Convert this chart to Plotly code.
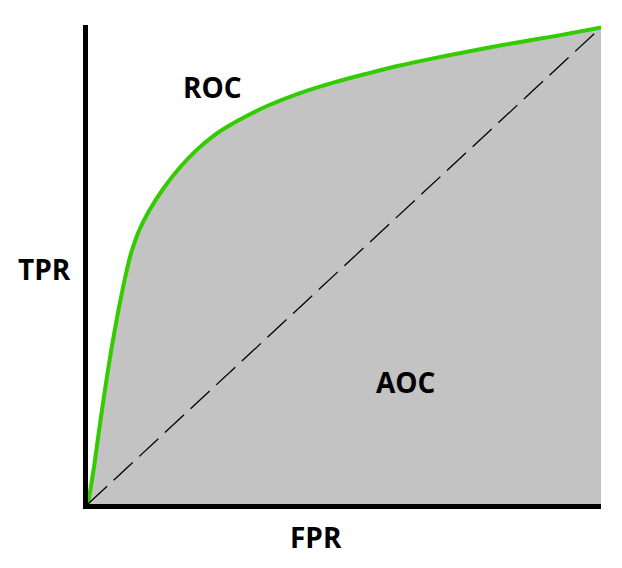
import plotly.graph_objects as go

# ROC curve points (FPR, TPR)
fpr = [0.0, 0.012, 0.021, 0.030, 0.040, 0.051, 0.064, 0.077, 0.085, 0.100, 0.120,
       0.147, 0.179, 0.212, 0.244, 0.277, 0.309, 0.349, 0.413, 0.478, 0.544, 0.608,
       0.673, 0.739, 0.803, 0.895, 1.0]
tpr = [0.0, 0.080, 0.150, 0.217, 0.288, 0.358, 0.432, 0.497, 0.530, 0.575, 0.617,
       0.662, 0.706, 0.743, 0.772, 0.795, 0.814, 0.835, 0.862, 0.884, 0.903, 0.920,
       0.935, 0.949, 0.962, 0.979, 1.0]
diag_x = [0, 1]
diag_y = [0, 1]

labels = {"ROC": (0.242, 0.875), "AOC": (0.618, 0.255)}

font_family = "Open Sans"
fsize = 28

fig = go.Figure()
fig.add_trace(go.Scatter(x=fpr, y=tpr, mode="lines", fill="tozeroy",
                         fillcolor="rgb(195,195,195)",
                         line=dict(color="rgb(51,204,0)", width=4, shape="spline", smoothing=1.0),
                         hoverinfo="skip", showlegend=False))
fig.add_trace(go.Scatter(x=diag_x, y=diag_y, mode="lines",
                         line=dict(color="black", width=1.3, dash="26px,9px"),
                         hoverinfo="skip", showlegend=False))

for txt, (lx, ly) in labels.items():
    fig.add_annotation(x=lx, y=ly, xref="x", yref="y", text="<b>%s</b>" % txt,
                       showarrow=False, xanchor="center", yanchor="middle",
                       font=dict(family=font_family, size=fsize, color="black"))

fig.add_annotation(x=(44 - 88) / 513, y=(504 - 270) / 477, xref="paper", yref="paper",
                   text="<b>TPR</b>", showarrow=False, xanchor="center", yanchor="middle",
                   font=dict(family=font_family, size=fsize, color="black"))
fig.add_annotation(x=(316 - 88) / 513, y=(504 - 537) / 477, xref="paper", yref="paper",
                   text="<b>FPR</b>", showarrow=False, xanchor="center", yanchor="middle",
                   font=dict(family=font_family, size=fsize, color="black"))

fig.update_xaxes(range=[0, 1], showgrid=False, zeroline=False, showticklabels=False,
                 ticks="", showline=True, linecolor="black", linewidth=5)
fig.update_yaxes(range=[0, 1.005], showgrid=False, zeroline=False, showticklabels=False,
                 ticks="", showline=True, linecolor="black", linewidth=5)

fig.update_layout(width=622, height=568, plot_bgcolor="white", paper_bgcolor="white",
                  margin=dict(l=88, r=21, t=25, b=64), showlegend=False)

fig.write_html("out.html", config={"displayModeBar": False},
               post_script="document.body.style.margin='0';document.body.style.overflow='hidden';")
